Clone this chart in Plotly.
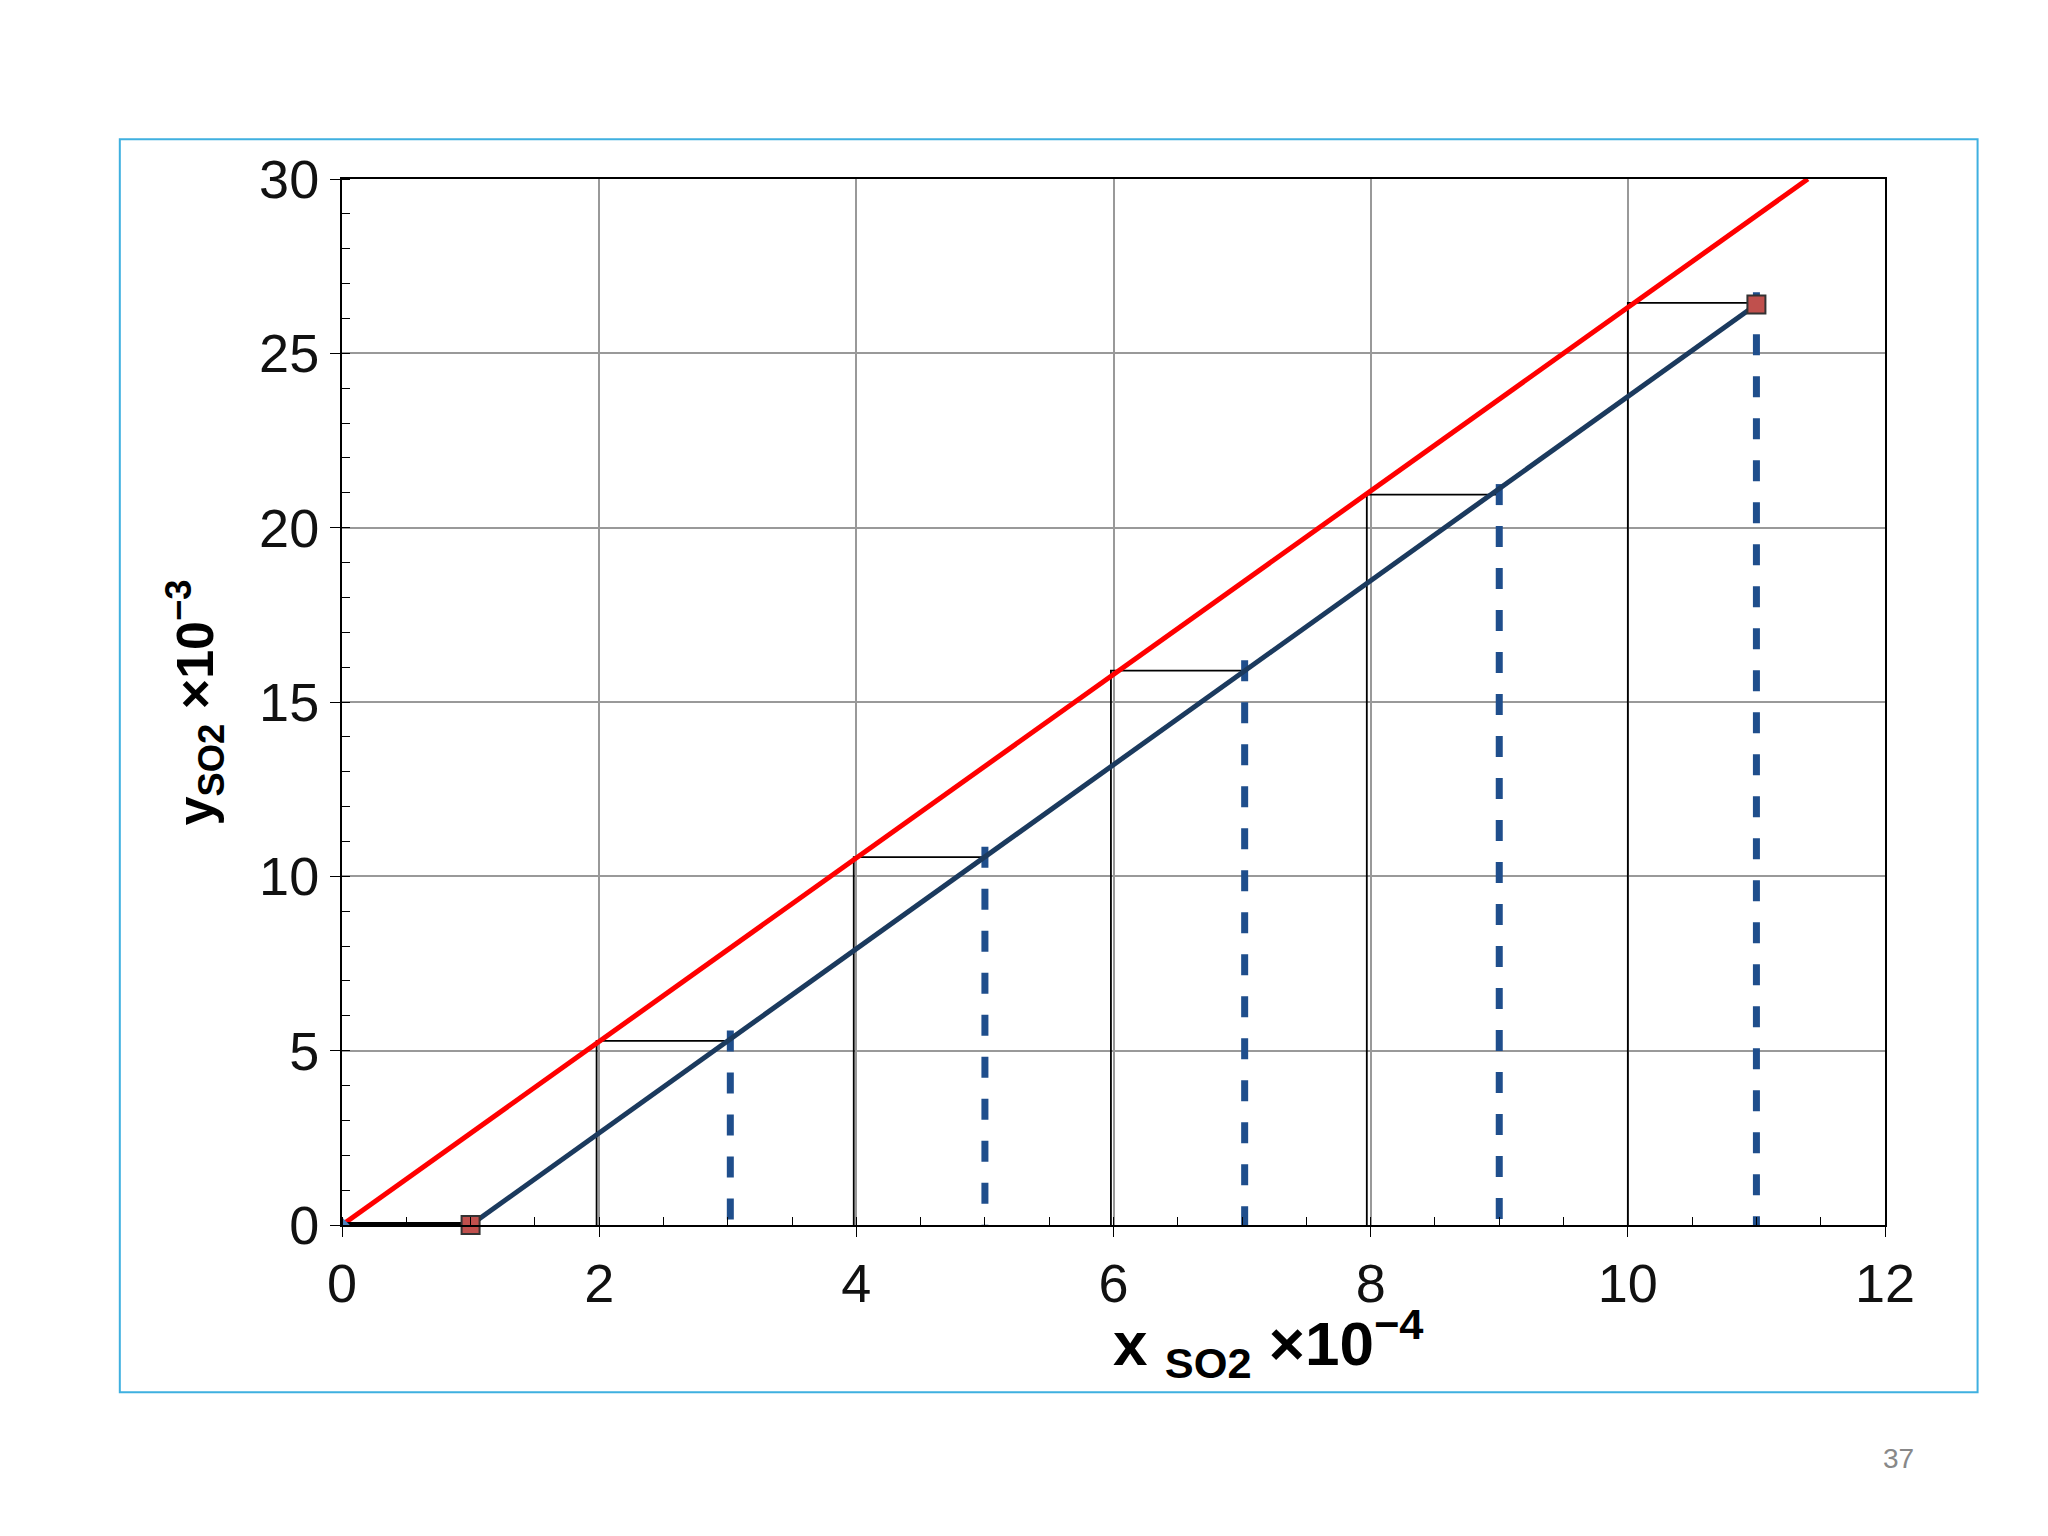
import plotly.graph_objects as go

eq_x = [0, 11.4]
eq_y = [0, 30]
op_x = [1, 11]
op_y = [0, 26.4]
step_y = [5.28, 10.55, 15.9, 20.95, 26.45]
step_x_eq = [1.98, 3.98, 5.98, 7.97, 10.0]
step_x_op = [3.02, 5.0, 7.02, 9.0, 11.0]

fig = go.Figure()
for xe, xo, y in zip(step_x_eq, step_x_op, step_y):
    fig.add_trace(go.Scatter(x=[xe, xe, xo], y=[0, y, y], mode="lines",
                             line=dict(color="black", width=1.8), showlegend=False))
    fig.add_trace(go.Scatter(x=[xo, xo], y=[y + 0.3, -0.4], mode="lines",
                             line=dict(color="#1f4e8c", width=7, dash="dash"), showlegend=False))
fig.add_trace(go.Scatter(x=eq_x, y=eq_y, mode="lines", line=dict(color="red", width=5), showlegend=False))
fig.add_trace(go.Scatter(x=op_x, y=op_y, mode="lines", line=dict(color="#1b3a5e", width=5), showlegend=False))
fig.add_trace(go.Scatter(x=[0, 1], y=[0, 0], mode="lines", line=dict(color="black", width=6), showlegend=False))
fig.add_trace(go.Scatter(x=[0], y=[0], mode="markers", marker=dict(symbol="diamond", color="#4f81bd", size=12), showlegend=False))
fig.add_trace(go.Scatter(x=op_x, y=op_y, mode="markers",
                         marker=dict(symbol="square", color="#c0504d", size=18, line=dict(color="#333", width=2)),
                         showlegend=False, cliponaxis=False))

axis_common = dict(showline=True, linecolor="black", linewidth=2, mirror=True,
                   gridcolor="#999", gridwidth=1.5, zeroline=False,
                   ticks="outside", ticklen=10, tickcolor="black",
                   tickfont=dict(size=54, family="Liberation Sans", color="#111"))
fig.update_xaxes(range=[0, 12], dtick=2, minor=dict(dtick=0.5, ticks="inside", ticklen=8, showgrid=False),
                 **axis_common)
fig.update_yaxes(range=[0, 30], dtick=5, minor=dict(dtick=1, ticks="inside", ticklen=8, showgrid=False),
                 **axis_common)

fig.update_layout(
    width=2048, height=1536, paper_bgcolor="white", plot_bgcolor="white",
    margin=dict(l=334, r=171, t=171, b=319),
    font=dict(family="Liberation Sans"),
    shapes=[dict(type="rect", xref="paper", yref="paper", x0=-0.144, x1=1.06, y0=-0.16, y1=1.038,
                 line=dict(color="#3fb0e0", width=2))],
    annotations=[
        dict(text="<b>x <sub>SO2</sub> ×10<sup>−4</sup></b>", xref="paper", yref="paper", x=0.6, y=-0.07,
             showarrow=False, xanchor="center", yanchor="top", font=dict(size=62, color="black")),
        dict(text="<b>y<sub>SO2</sub> ×10<sup>−3</sup></b>", xref="paper", yref="paper", x=-0.095, y=0.5,
             showarrow=False, textangle=-90, xanchor="center", yanchor="middle", font=dict(size=52, color="black")),
        dict(text="37", xref="paper", yref="paper", x=1.02, y=-0.24, showarrow=False,
             font=dict(size=28, color="#888")),
    ],
)
fig.write_html("out.html")
